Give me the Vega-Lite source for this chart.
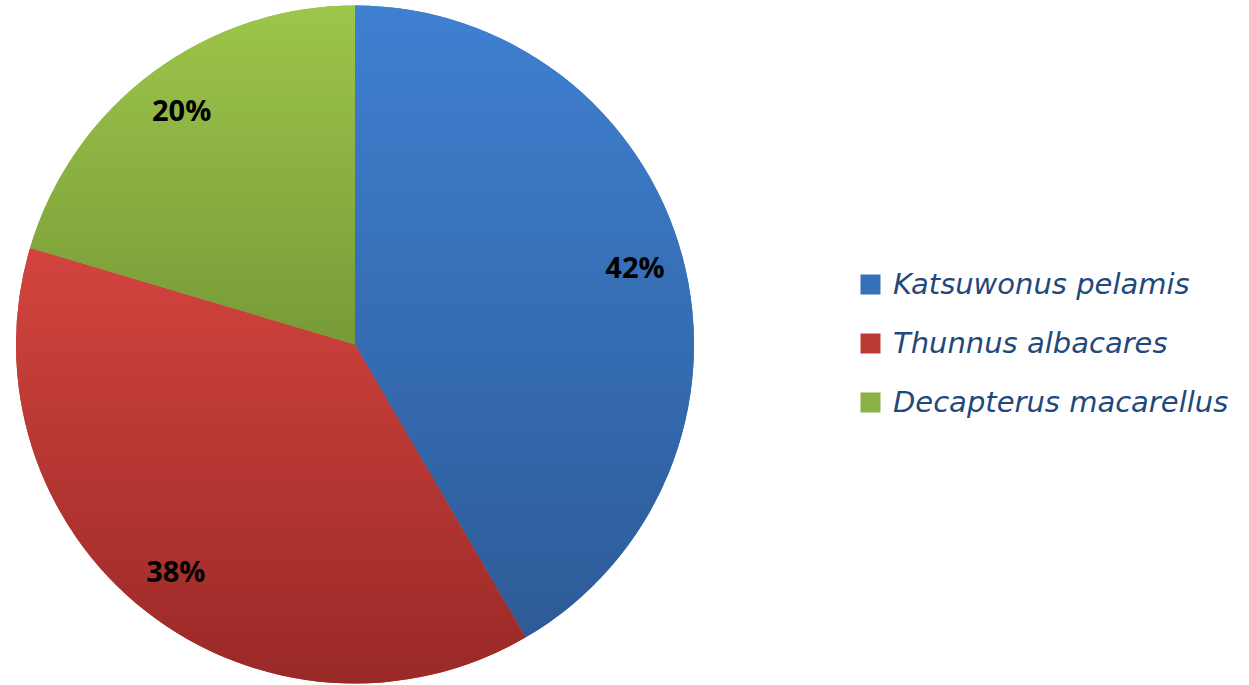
{
  "$schema": "https://vega.github.io/schema/vega-lite/v6.json",
  "width": 710,
  "height": 689,
  "padding": 0,
  "autosize": {"type": "pad"},
  "background": "white",
  "data": {
    "values": [
      {"species": "Katsuwonus pelamis", "pct": 0.416, "rank": 1},
      {"species": "Thunnus albacares", "pct": 0.38, "rank": 2},
      {"species": "Decapterus macarellus", "pct": 0.204, "rank": 3}
    ]
  },
  "encoding": {
    "theta": {"field": "pct", "type": "quantitative", "stack": true},
    "order": {"field": "rank", "type": "quantitative"}
  },
  "layer": [
    {
      "mark": {"type": "arc", "outerRadius": 339},
      "encoding": {
        "color": {
          "field": "species",
          "type": "nominal",
          "scale": {
            "domain": ["Katsuwonus pelamis", "Thunnus albacares", "Decapterus macarellus"],
            "range": ["#3670B8", "#BC3A35", "#8BB044"]
          },
          "legend": {
            "title": null,
            "orient": "none",
            "legendX": 856,
            "legendY": 270,
            "padding": 0,
            "symbolType": "square",
            "symbolSize": 400,
            "symbolStrokeWidth": 0,
            "symbolOpacity": 1,
            "labelFont": "DejaVu Sans",
            "labelFontStyle": "italic",
            "labelFontSize": 29,
            "labelColor": "#1F497D",
            "labelOffset": 8,
            "rowPadding": 29,
            "labelLimit": 500
          }
        }
      }
    },
    {
      "mark": {"type": "arc", "outerRadius": 339},
      "encoding": {
        "detail": {"field": "species", "type": "nominal"},
        "color": {
          "condition": [
            {"test": "datum.species === 'Katsuwonus pelamis'", "value": {"gradient": "linear", "x1": 0, "y1": 0, "x2": 0, "y2": 1, "stops": [{"offset": 0, "color": "#3F80D1"}, {"offset": 1, "color": "#2D5B97"}]}},
            {"test": "datum.species === 'Thunnus albacares'", "value": {"gradient": "linear", "x1": 0, "y1": 0, "x2": 0, "y2": 1, "stops": [{"offset": 0, "color": "#D3443E"}, {"offset": 1, "color": "#992927"}]}}
          ],
          "value": {"gradient": "linear", "x1": 0, "y1": 0, "x2": 0, "y2": 1, "stops": [{"offset": 0, "color": "#9DC64B"}, {"offset": 1, "color": "#779A37"}]}
        }
      }
    },
    {
      "mark": {"type": "text", "radius": 290, "font": "Open Sans", "fontWeight": "bold", "fontSize": 29, "color": "black", "align": "center", "baseline": "middle"},
      "encoding": {
        "detail": {"field": "species", "type": "nominal"},
        "text": {"field": "pct", "type": "quantitative", "format": ".0%"}
      }
    }
  ]
}
